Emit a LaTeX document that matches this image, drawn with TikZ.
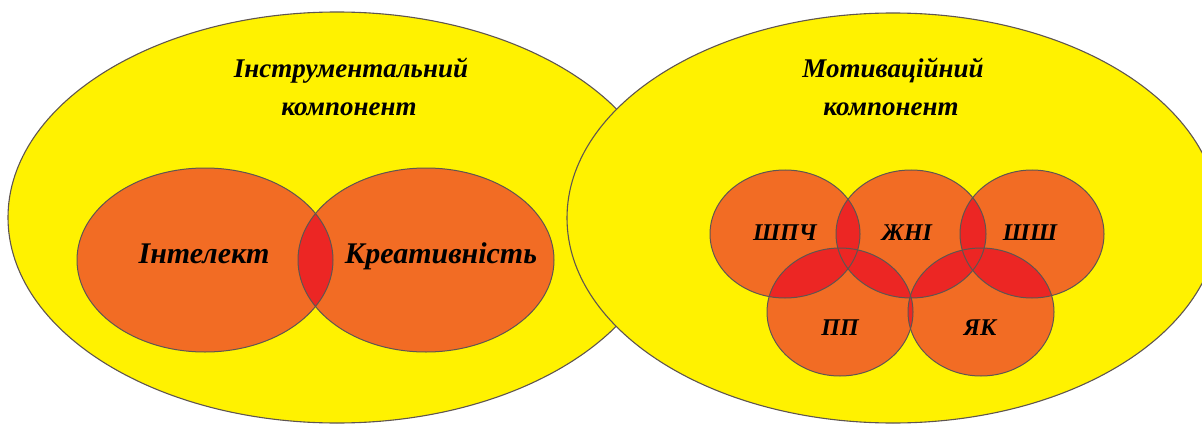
\documentclass[tikz,border=0pt]{standalone}
\usepackage{fontspec}
\setmainfont{Liberation Serif}
\definecolor{yel}{RGB}{255,242,0}
\definecolor{org}{RGB}{242,108,36}
\definecolor{lens}{RGB}{236,38,36}
\definecolor{edge}{RGB}{95,85,80}
\begin{document}
\begin{tikzpicture}[x=1pt,y=-1pt,
  outer/.style={fill=yel,draw=edge,line width=1.1pt},
  inner/.style={fill=org},
  rim/.style={draw=edge,line width=1pt},
  lab/.style={font=\fontsize{#1}{#1}\selectfont\bfseries\itshape,anchor=base,inner sep=0pt},
  eI/.style={insert path={(205,260) ellipse [x radius=128pt, y radius=92pt]}},
  eK/.style={insert path={(426,260) ellipse [x radius=128pt, y radius=92pt]}},
  c1/.style={insert path={(785,234) ellipse [x radius=75pt, y radius=64pt]}},
  c2/.style={insert path={(911,234) ellipse [x radius=75pt, y radius=64pt]}},
  c3/.style={insert path={(1032,234) ellipse [x radius=72pt, y radius=64pt]}},
  c4/.style={insert path={(840,312) ellipse [x radius=73pt, y radius=64pt]}},
  c5/.style={insert path={(981,312) ellipse [x radius=73pt, y radius=64pt]}}]
\useasboundingbox (0,0) rectangle (1202,425);
\clip (0,0) rectangle (1202,425);
% outer components
\path[outer] (337,217.5) ellipse [x radius=329pt, y radius=205.5pt];
\path[outer] (893,218) ellipse [x radius=326pt, y radius=205pt];
% inner fills
\fill[inner,eI];
\fill[inner,eK];
\fill[inner,c1];
\fill[inner,c2];
\fill[inner,c3];
\fill[inner,c4];
\fill[inner,c5];
% overlaps
\begin{scope}\clip[eI]; \fill[lens,eK];\end{scope}
\begin{scope}\clip[c1]; \fill[lens,c2];\end{scope}
\begin{scope}\clip[c2]; \fill[lens,c3];\end{scope}
\begin{scope}\clip[c1]; \fill[lens,c4];\end{scope}
\begin{scope}\clip[c2]; \fill[lens,c4];\end{scope}
\begin{scope}\clip[c2]; \fill[lens,c5];\end{scope}
\begin{scope}\clip[c3]; \fill[lens,c5];\end{scope}
\begin{scope}\clip[c4]; \fill[lens,c5];\end{scope}
% outlines
\draw[rim,eI]; \draw[rim,eK];
\draw[rim,c1]; \draw[rim,c2]; \draw[rim,c3]; \draw[rim,c4]; \draw[rim,c5];
% texts
\node[lab=27] (t1a) at (351,78) {Інструментальний};
\node[lab=27] (t1b) at (349,116) {компонент};
\node[lab=27] (t2a) at (893,78) {Мотиваційний};
\node[lab=27] (t2b) at (891,116) {компонент};
\node[lab=30] (int) at (204,263) {Інтелект};
\node[lab=30] (kre) at (441,263) {Креативність};
\node[lab=24] (s1) at (785,240) {ШПЧ};
\node[lab=24] (s2) at (907,240) {ЖНІ};
\node[lab=24] (s3) at (1030,240) {ШШ};
\node[lab=24] (s4) at (840,335) {ПП};
\node[lab=24] (s5) at (980,335) {ЯК};
\end{tikzpicture}
\end{document}
